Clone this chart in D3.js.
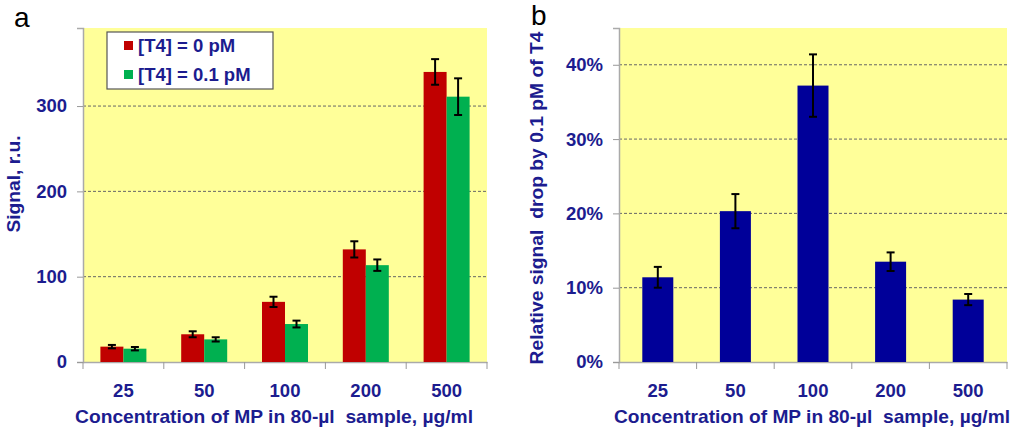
<!DOCTYPE html>
<html><head><meta charset="utf-8">
<script src="https://cdn.jsdelivr.net/npm/d3@7"></script>
<style>
body{margin:0;background:#fff;}
text{font-family:Arial,"Liberation Sans",sans-serif;}
</style></head>
<body>
<svg id="c" width="1023" height="431"></svg>
<script>
const categories = ["25","50","100","200","500"];
const seriesNames = ["[T4] = 0 pM","[T4] = 0.1 pM"];
const signal0 = [18, 32.5, 70.5, 132, 340];
const signal0Err = [2, 3.5, 6, 9.5, 15];
const signal01 = [15.6, 26.5, 44.5, 113.5, 311];
const signal01Err = [2, 2.5, 4, 6.7, 21.5];
const yTicksA = [0,100,200,300];
const drop = [0.114, 0.203, 0.372, 0.135, 0.084];
const dropErr = [0.014, 0.023, 0.042, 0.0125, 0.0075];
const yTicksB = [0,0.1,0.2,0.3,0.4];

const svg = d3.select("#c");
const txtCol = "#1c1c8f";
const colors = ["#c00000","#00b050"];
const FS = "18.5px";

function axesFrame(g, x, y, ticks, fmt, w, h){
  g.append("rect").attr("x",0).attr("y",0).attr("width",w).attr("height",h).attr("fill","#ffff99");
  g.selectAll(".grid").data(ticks.filter(t=>t>0)).enter().append("line")
    .attr("x1",0).attr("x2",w).attr("y1",d=>y(d)).attr("y2",d=>y(d))
    .attr("stroke","#666").attr("stroke-width",1).attr("stroke-dasharray","3,2");
  const ya = g.append("g").call(d3.axisLeft(y).tickValues(ticks).tickFormat(fmt).tickSize(6).tickPadding(10));
  ya.select(".domain").attr("stroke","#aaa").attr("stroke-width",1.5);
  ya.selectAll(".tick line").attr("stroke","#999");
  ya.selectAll(".tick text").attr("fill",txtCol).attr("font-size",FS).attr("font-weight","bold");
  const xa = g.append("g").attr("transform",`translate(0,${h})`)
    .call(d3.axisBottom(x).tickSize(0).tickPadding(22));
  xa.select(".domain").attr("stroke","#aaa").attr("stroke-width",1.5);
  xa.selectAll(".tick text").attr("fill",txtCol).attr("font-size",FS).attr("font-weight","bold");
  const bounds = x.domain().map(d=>x(d)).concat([w]);
  g.selectAll(".bt").data(bounds).enter().append("line")
    .attr("x1",d=>d).attr("x2",d=>d).attr("y1",h).attr("y2",h+7).attr("stroke","#999");
}

function errBar(g, cx, yTop, yBot, cap){
  g.append("line").attr("x1",cx).attr("x2",cx).attr("y1",yTop).attr("y2",yBot).attr("stroke","#000").attr("stroke-width",2);
  [yTop,yBot].forEach(yy=>g.append("line").attr("x1",cx-cap/2).attr("x2",cx+cap/2).attr("y1",yy).attr("y2",yy).attr("stroke","#000").attr("stroke-width",2));
}

function title(sel, len){
  return sel.attr("fill",txtCol).attr("font-size",FS).attr("font-weight","bold")
    .attr("text-anchor","middle").style("white-space","pre")
    .attr("textLength",len).attr("lengthAdjust","spacingAndGlyphs");
}

// Panel a
{
  const L=83,T=28,W=404,H=334;
  const g = svg.append("g").attr("transform",`translate(${L},${T})`);
  const x = d3.scaleBand().domain(categories).range([0,W]).paddingInner(0).paddingOuter(0);
  const y = d3.scaleLinear().domain([0,391.5]).range([H,0]);
  axesFrame(g,x,y,yTicksA,d3.format("d"),W,H);
  const bw = 23;
  const series = [[signal0,signal0Err],[signal01,signal01Err]];
  series.forEach((s,si)=>{
    categories.forEach((c,i)=>{
      const cx0 = x(c)+x.bandwidth()/2 - bw + si*bw;
      g.append("rect").attr("x",cx0).attr("y",y(s[0][i])).attr("width",bw).attr("height",H-y(s[0][i])).attr("fill",colors[si]);
    });
  });
  series.forEach((s,si)=>{
    categories.forEach((c,i)=>{
      const cx = x(c)+x.bandwidth()/2 - bw + si*bw + bw/2;
      errBar(g,cx,y(s[0][i]+s[1][i]),y(s[0][i]-s[1][i]),8);
    });
  });
  const lg = svg.append("g");
  lg.append("rect").attr("x",107).attr("y",32).attr("width",166).attr("height",57).attr("fill","#fff").attr("stroke","#555").attr("stroke-width",1.2);
  seriesNames.forEach((n,i)=>{
    lg.append("rect").attr("x",124).attr("y",41+i*29).attr("width",9).attr("height",9).attr("fill",colors[i]);
    lg.append("text").attr("x",138).attr("y",52+i*29).attr("fill",txtCol).attr("font-size",FS).attr("font-weight","bold").text(n);
  });
  title(svg.append("text").attr("transform","translate(20,184) rotate(-90)"),97).text("Signal, r.u.");
  title(svg.append("text").attr("x",274).attr("y",423),398).text("Concentration of MP in 80-µl  sample, µg/ml");
  svg.append("text").attr("x",14).attr("y",27).attr("font-size","28px").attr("fill","#000").text("a");
}

// Panel b
{
  const L=619,T=28,W=388,H=334;
  const g = svg.append("g").attr("transform",`translate(${L},${T})`);
  const x = d3.scaleBand().domain(categories).range([0,W]).paddingInner(0).paddingOuter(0);
  const y = d3.scaleLinear().domain([0,0.4495]).range([H,0]);
  axesFrame(g,x,y,yTicksB,d3.format(".0%"),W,H);
  const bw = 31;
  categories.forEach((c,i)=>{
    g.append("rect").attr("x",x(c)+x.bandwidth()/2-bw/2).attr("y",y(drop[i])).attr("width",bw).attr("height",H-y(drop[i])).attr("fill","#000099");
  });
  categories.forEach((c,i)=>{
    errBar(g,x(c)+x.bandwidth()/2,y(drop[i]+dropErr[i]),y(drop[i]-dropErr[i]),8);
  });
  title(svg.append("text").attr("transform","translate(543,198) rotate(-90)"),333).text("Relative signal  drop by 0.1 pM of T4");
  title(svg.append("text").attr("x",812).attr("y",423),396).text("Concentration of MP in 80-µl  sample, µg/ml");
  svg.append("text").attr("x",531).attr("y",25).attr("font-size","28px").attr("fill","#000").text("b");
}
</script>
</body></html>
